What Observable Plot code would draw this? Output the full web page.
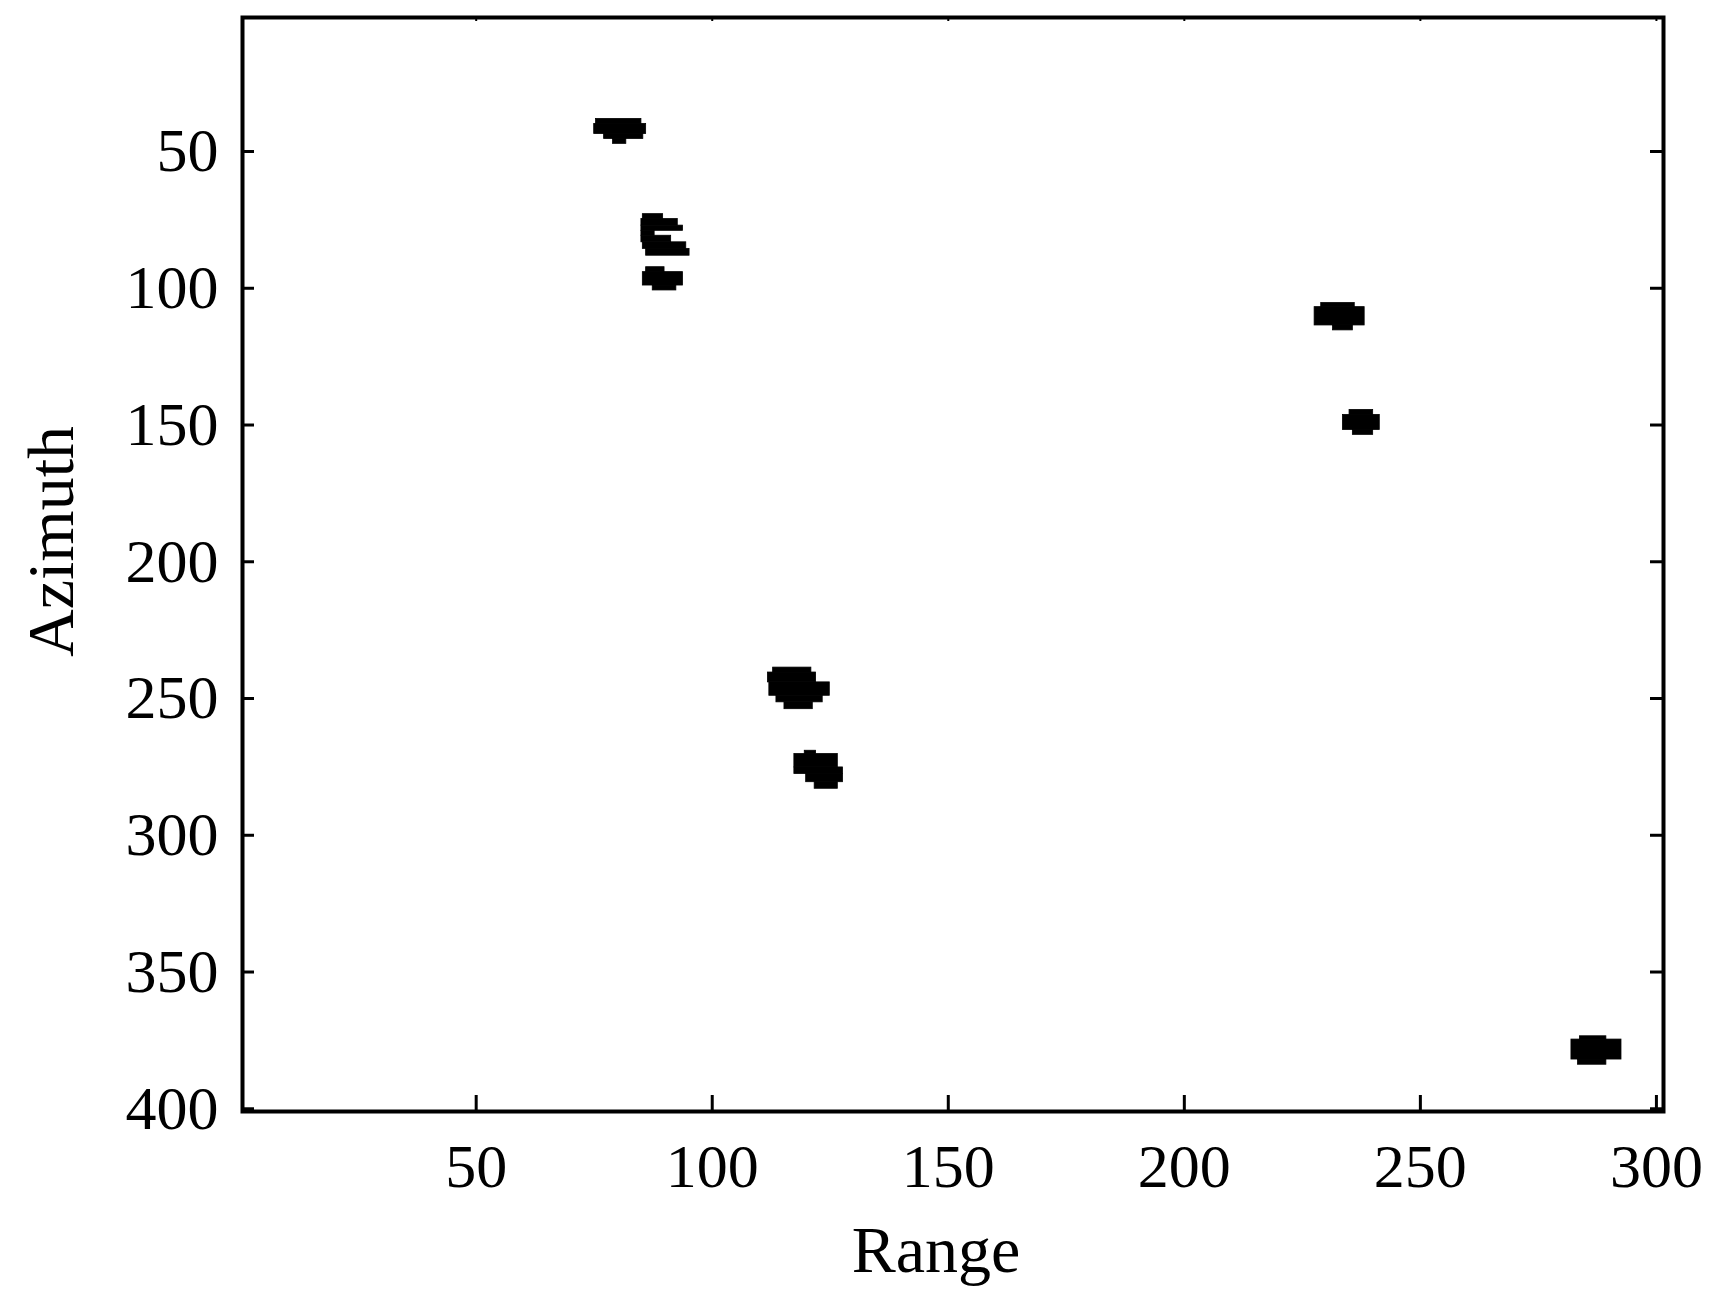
<!DOCTYPE html>
<html>
<head>
<meta charset="utf-8">
<script src="https://cdn.jsdelivr.net/npm/d3@7"></script>
<script src="https://cdn.jsdelivr.net/npm/@observablehq/plot@0.6"></script>
<style>
  html, body { margin: 0; padding: 0; background: #fff; }
  #chart { width: 1724px; height: 1293px; }
</style>
</head>
<body>
<div id="chart"></div>
<script>
// Tick values
const xTicks = [50, 100, 150, 200, 250, 300];
const yTicks = [50, 100, 150, 200, 250, 300, 350, 400];

// Detected target blobs, as horizontal runs: [azimuthFrom, azimuthTo, rangeFrom, rangeTo]
const blob1 = [
  [38.1, 39.9, 75.4, 85.0],
  [39.9, 43.6, 75.0, 86.0],
  [43.6, 45.4, 77.1, 85.4],
  [45.4, 47.2, 79.0, 81.8]
];
const blob2 = [
  [72.9, 74.7, 85.3, 89.6],
  [74.7, 77.1, 85.0, 92.7],
  [77.1, 79.0, 85.0, 93.8],
  [79.0, 80.8, 85.0, 87.8],
  [80.8, 83.2, 85.0, 91.3],
  [83.2, 85.6, 85.3, 94.5],
  [85.6, 88.1, 86.0, 95.2]
];
const blob3 = [
  [92.3, 94.1, 86.0, 89.9],
  [94.1, 99.0, 85.3, 93.8],
  [99.0, 100.8, 87.4, 92.4]
];
const blob4 = [
  [105.4, 106.9, 229.0, 236.1],
  [106.9, 113.6, 227.6, 238.2],
  [113.6, 115.4, 231.5, 235.7]
];
const blob5 = [
  [144.5, 146.3, 235.0, 240.0],
  [146.3, 151.8, 233.6, 241.4],
  [151.8, 153.6, 235.7, 240.0]
];
const blob6 = [
  [238.7, 240.5, 112.9, 121.0],
  [240.5, 244.1, 111.8, 122.0],
  [244.1, 249.0, 112.1, 124.9],
  [249.0, 251.4, 113.6, 123.4],
  [251.4, 253.9, 115.3, 121.3]
];
const blob7 = [
  [269.1, 270.3, 119.6, 122.0],
  [270.3, 275.2, 117.4, 126.6],
  [275.2, 277.6, 117.4, 127.7],
  [277.6, 280.6, 119.9, 127.7],
  [280.6, 283.0, 121.7, 126.6]
];
const blob8 = [
  [373.5, 374.7, 283.8, 289.4],
  [374.7, 382.0, 282.0, 292.6],
  [382.0, 383.9, 283.4, 289.4]
];

const runs = [blob1, blob2, blob3, blob4, blob5, blob6, blob7, blob8]
  .flat()
  .map(([a0, a1, r0, r1]) => ({a0, a1, r0, r1}));

const W = 1724, H = 1293;
const mL = 242, mR = 61, mT = 17, mB = 182;
const innerW = W - mL - mR, innerH = H - mT - mB;
const serif = "'Liberation Serif', 'Times New Roman', serif";

const chart = Plot.plot({
  width: W,
  height: H,
  marginLeft: mL,
  marginRight: mR,
  marginTop: mT,
  marginBottom: mB,
  style: {fontFamily: serif, fontSize: "62px", color: "#000", background: "#fff"},
  x: {domain: [0.5, 301.5]},
  y: {domain: [1, 401], reverse: true},
  marks: [
    Plot.rect(runs, {x1: "r0", x2: "r1", y1: "a0", y2: "a1", fill: "#000", stroke: "#000", strokeWidth: 0.8}),
    Plot.axisX(xTicks, {tickSize: 0, tickPadding: 31, fontSize: 62, label: null}),
    Plot.axisY(yTicks, {tickSize: 0, tickPadding: 24, fontSize: 62, label: null}),
    Plot.tickX(xTicks, {x: d => d, stroke: "#000", strokeWidth: 3, insetTop: innerH - 16}),
    Plot.tickX(xTicks, {x: d => d, stroke: "#000", strokeWidth: 2, insetBottom: innerH - 4}),
    Plot.tickY(yTicks, {y: d => d, stroke: "#000", strokeWidth: 3, insetRight: innerW - 12}),
    Plot.tickY(yTicks, {y: d => d, stroke: "#000", strokeWidth: 3, insetLeft: innerW - 13}),
    Plot.frame({stroke: "#000", strokeWidth: 4}),
    Plot.text(["Range"], {frameAnchor: "bottom", text: d => d, textAnchor: "middle", lineAnchor: "top", dx: -17, dy: 114, fontSize: 66, fill: "#000"}),
    Plot.text(["Azimuth"], {frameAnchor: "left", text: d => d, rotate: -90, textAnchor: "middle", lineAnchor: "middle", dx: -191, dy: -23, fontSize: 66, fill: "#000"})
  ]
});
document.getElementById("chart").appendChild(chart);
</script>
</body>
</html>
